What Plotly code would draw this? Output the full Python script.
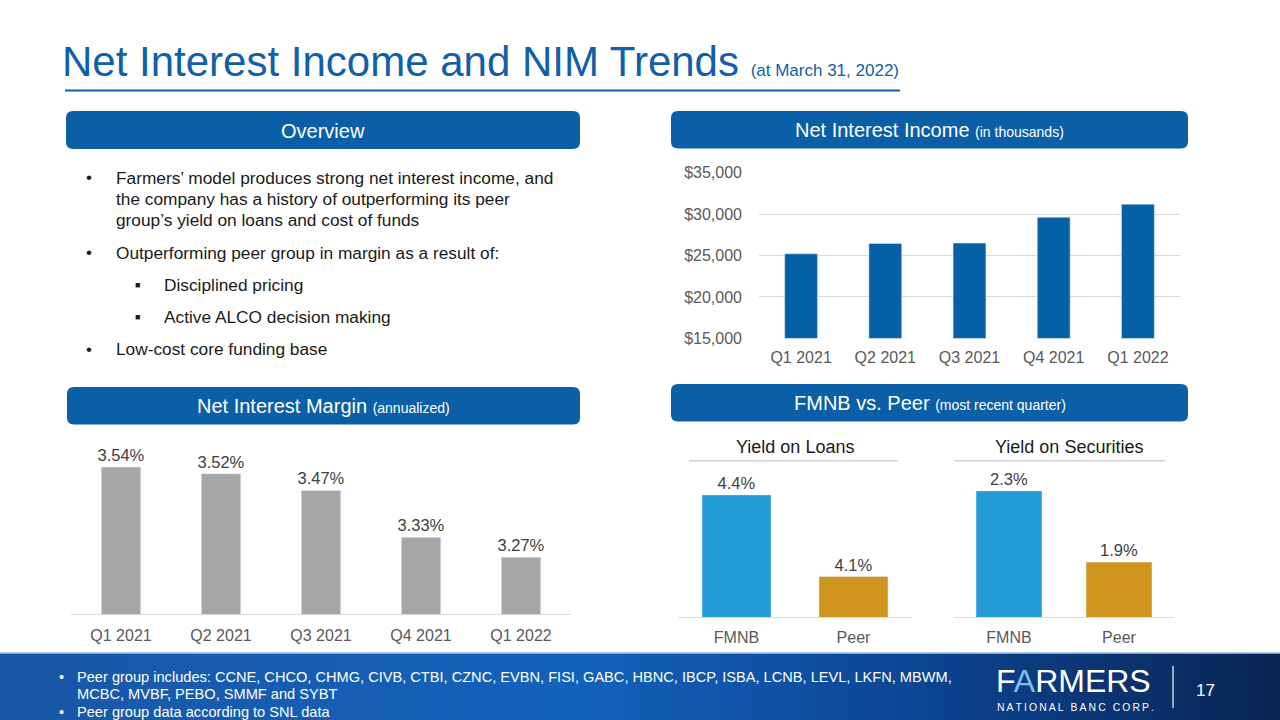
import plotly.graph_objects as go

# ---------------- data ----------------
quarters = ["Q1 2021", "Q2 2021", "Q3 2021", "Q4 2021", "Q1 2022"]
nii_values = [25200, 26460, 26500, 29620, 31200]          # $ thousands
nim_values = [3.54, 3.52, 3.47, 3.33, 3.27]                # %
peer_categories = ["FMNB", "Peer"]
yield_on_loans = [4.4, 4.1]                                # %
yield_on_securities = [2.3, 1.9]                           # %

overview_bullets = [
    ("main", ["Farmers’ model produces strong net interest income, and",
              "the company has a history of outperforming its peer",
              "group’s yield on loans and cost of funds"]),
    ("main", ["Outperforming peer group in margin as a result of:"]),
    ("sub", ["Disciplined pricing"]),
    ("sub", ["Active ALCO decision making"]),
    ("main", ["Low-cost core funding base"]),
]
footer_lines = [
    ("•", "Peer group includes: CCNE, CHCO, CHMG, CIVB, CTBI, CZNC, EVBN, FISI, GABC, HBNC, IBCP, ISBA, LCNB, LEVL, LKFN, MBWM,"),
    ("", "MCBC, MVBF, PEBO, SMMF and SYBT"),
    ("•", "Peer group data according to SNL data"),
]

# ---------------- helpers ----------------
W, H = 1280, 720
FONT = "Liberation Sans, Arial, sans-serif"
BLUE = "#0A5FA6"


def px(x):
    return x / W


def py(y):
    return 1 - y / H


def rrect(x0, y0, x1, y1, r):
    rx, ry = r / W, r / H
    X0, X1 = px(x0), px(x1)
    Y0, Y1 = py(y1), py(y0)   # bottom, top in paper
    return (f"M {X0+rx},{Y0} L {X1-rx},{Y0} Q {X1},{Y0} {X1},{Y0+ry} "
            f"L {X1},{Y1-ry} Q {X1},{Y1} {X1-rx},{Y1} L {X0+rx},{Y1} "
            f"Q {X0},{Y1} {X0},{Y1-ry} L {X0},{Y0+ry} Q {X0},{Y0} {X0+rx},{Y0} Z")


shapes = []
annotations = []


def text(x, y, s, size, color="#000000", xanchor="left", yanchor="middle", family=FONT):
    annotations.append(dict(x=px(x), y=py(y), xref="paper", yref="paper", text=s,
                            showarrow=False, xanchor=xanchor, yanchor=yanchor,
                            font=dict(size=size, color=color, family=family)))


# ---------------- figure & traces ----------------
fig = go.Figure()

label_font = dict(size=16.5, color="#404040", family=FONT)
fig.add_trace(go.Bar(x=quarters, y=nii_values, marker_color="#0561A6", width=0.39,
                     xaxis="x", yaxis="y", hoverinfo="x+y"))
fig.add_trace(go.Bar(x=quarters, y=nim_values, marker_color="#A6A6A6", width=0.395,
                     text=[f"{v:.2f}%" for v in nim_values], textposition="outside",
                     constraintext="none", cliponaxis=False, textfont=label_font,
                     xaxis="x2", yaxis="y2"))
fig.add_trace(go.Bar(x=peer_categories, y=yield_on_loans, marker_color=["#239BD5", "#D0951F"],
                     width=0.59, text=[f"{v:.1f}%" for v in yield_on_loans], textposition="outside",
                     constraintext="none", cliponaxis=False, textfont=label_font,
                     xaxis="x3", yaxis="y3"))
fig.add_trace(go.Bar(x=peer_categories, y=yield_on_securities, marker_color=["#239BD5", "#D0951F"],
                     width=0.6, text=[f"{v:.1f}%" for v in yield_on_securities], textposition="outside",
                     constraintext="none", cliponaxis=False, textfont=label_font,
                     xaxis="x4", yaxis="y4"))

tickfont = dict(size=16, color="#595959", family=FONT)


def xax(x0, x1, anchor, line=True, standoff=10):
    return dict(domain=[px(x0), px(x1)], anchor=anchor, tickfont=tickfont,
                showline=line, linecolor="#D9D9D9", linewidth=1, showgrid=False,
                ticks="", ticklabelstandoff=standoff, fixedrange=True, automargin=False)


def yax(y_top, y_bot, rng, anchor, **kw):
    d = dict(domain=[py(y_bot), py(y_top)], range=rng, anchor=anchor, fixedrange=True,
             automargin=False)
    d.update(kw)
    return d


layout = dict(
    width=W, height=H, margin=dict(l=0, r=0, t=0, b=0, autoexpand=False),
    paper_bgcolor="white", plot_bgcolor="rgba(0,0,0,0)",
    showlegend=False, font=dict(family=FONT),
    xaxis=xax(759, 1180, "y", line=False, standoff=8),
    yaxis=yax(172.7, 338.3, [15000, 35000], "x", tickvals=[15000, 20000, 25000, 30000, 35000],
              tickformat="$,.0f", showgrid=True, gridcolor="#D9D9D9", gridwidth=1,
              zeroline=False, tickfont=tickfont, ticklabelstandoff=16),
    xaxis2=xax(71, 571, "y2", standoff=7),
    yaxis2=yax(447, 614, [3.10, 3.60], "x2", visible=False),
    xaxis3=xax(678, 912, "y3", standoff=5),
    yaxis3=yax(467.7, 617.3, [3.95, 4.50], "x3", visible=False),
    xaxis4=xax(954, 1174, "y4", standoff=5),
    yaxis4=yax(473.1, 617.3, [1.59, 2.40], "x4", visible=False),
)

# ---------------- title ----------------
text(60, 61, "Net Interest Income and NIM Trends <span style='font-size:17px'>(at March 31, 2022)</span>",
     42, color="#0F60A8")
shapes.append(dict(type="line", xref="paper", yref="paper", x0=px(65), x1=px(900), y0=py(90.5), y1=py(90.5),
                   line=dict(color="#0F60A8", width=2)))

# ---------------- section headers ----------------
headers = [
    (66, 111, 580, 149, "Overview"),
    (671, 111, 1188, 148.5, "Net Interest Income <span style='font-size:14px'>(in thousands)</span>"),
    (67, 387, 580, 424.5, "Net Interest Margin <span style='font-size:14px'>(annualized)</span>"),
    (671, 384, 1188, 421.5, "FMNB vs. Peer <span style='font-size:14px'>(most recent quarter)</span>"),
]
for x0, y0, x1, y1, label in headers:
    shapes.append(dict(type="path", xref="paper", yref="paper", path=rrect(x0, y0, x1, y1, 7),
                       fillcolor=BLUE, line=dict(width=0), layer="below"))
    text((x0 + x1) / 2, (y0 + y1) / 2 + 0.5, label, 20, color="white", xanchor="center")

# ---------------- overview bullets ----------------
y = 177.5
for kind, lines in overview_bullets:
    if kind == "main":
        text(84, y, "•", 17, color="#1a1a1a")
        for i, ln in enumerate(lines):
            text(114, y + i * 21.3, ln, 17.3, color="#1a1a1a")
        y += (len(lines) - 1) * 21.3 + 32.5
    else:
        text(133, y, "■", 9, color="#1a1a1a")
        text(162, y, lines[0], 17.3, color="#1a1a1a")
        y += 32

# ---------------- FMNB vs Peer sub-titles ----------------
text(795, 447, "Yield on Loans", 18, color="#1a1a1a", xanchor="center")
shapes.append(dict(type="line", xref="paper", yref="paper", x0=px(689), x1=px(898), y0=py(460.7), y1=py(460.7),
                   line=dict(color="#D0D0D0", width=1.5)))
text(1069, 447, "Yield on Securities", 18, color="#1a1a1a", xanchor="center")
shapes.append(dict(type="line", xref="paper", yref="paper", x0=px(954), x1=px(1165), y0=py(460.7), y1=py(460.7),
                   line=dict(color="#D0D0D0", width=1.5)))

# ---------------- footer ----------------
def lerp_color(c0, c1, t):
    a = [int(c0[i:i + 2], 16) for i in (1, 3, 5)]
    b = [int(c1[i:i + 2], 16) for i in (1, 3, 5)]
    return "#" + "".join(f"{round(a[k] + (b[k] - a[k]) * t):02x}" for k in range(3))


stops = [(0.0, "#1A57A6"), (0.45, "#1262BC"), (0.72, "#0C4592"), (1.0, "#0A2453")]
n = 80
for i in range(n):
    t = (i + 0.5) / n
    for j in range(len(stops) - 1):
        if stops[j][0] <= t <= stops[j + 1][0]:
            tt = (t - stops[j][0]) / (stops[j + 1][0] - stops[j][0])
            col = lerp_color(stops[j][1], stops[j + 1][1], tt)
            break
    shapes.append(dict(type="rect", xref="paper", yref="paper", x0=i / n, x1=(i + 1) / n + 0.001,
                       y0=0, y1=py(653), fillcolor=col, line=dict(width=0), layer="below"))
shapes.append(dict(type="line", xref="paper", yref="paper", x0=0, x1=1, y0=py(653), y1=py(653),
                   line=dict(color="#9CC3E8", width=1.5)))

fy = 677
for bullet, ln in footer_lines:
    if bullet:
        text(57, fy, bullet, 14.5, color="white")
    text(75, fy, ln, 14.6, color="white")
    fy += 17.3

# logo
text(994, 681, "F<span style='color:#7CC0EE'>A</span>RMERS", 32, color="white")
text(995, 707, "\u2009".join("NATIONAL") + "\u2009 \u2009" + "\u2009".join("BANC") + "\u2009 \u2009"
     + "\u2009".join("CORP."), 10.4, color="white")
shapes.append(dict(type="line", xref="paper", yref="paper", x0=px(1173), x1=px(1173), y0=py(666), y1=py(708),
                   line=dict(color="white", width=1.2)))
text(1205, 690, "17", 17, color="white", xanchor="center")

layout["shapes"] = shapes
layout["annotations"] = annotations
fig.update_layout(**layout)

fig.write_html("out.html", config={"displayModeBar": False},
               post_script="document.body.style.margin='0';")
